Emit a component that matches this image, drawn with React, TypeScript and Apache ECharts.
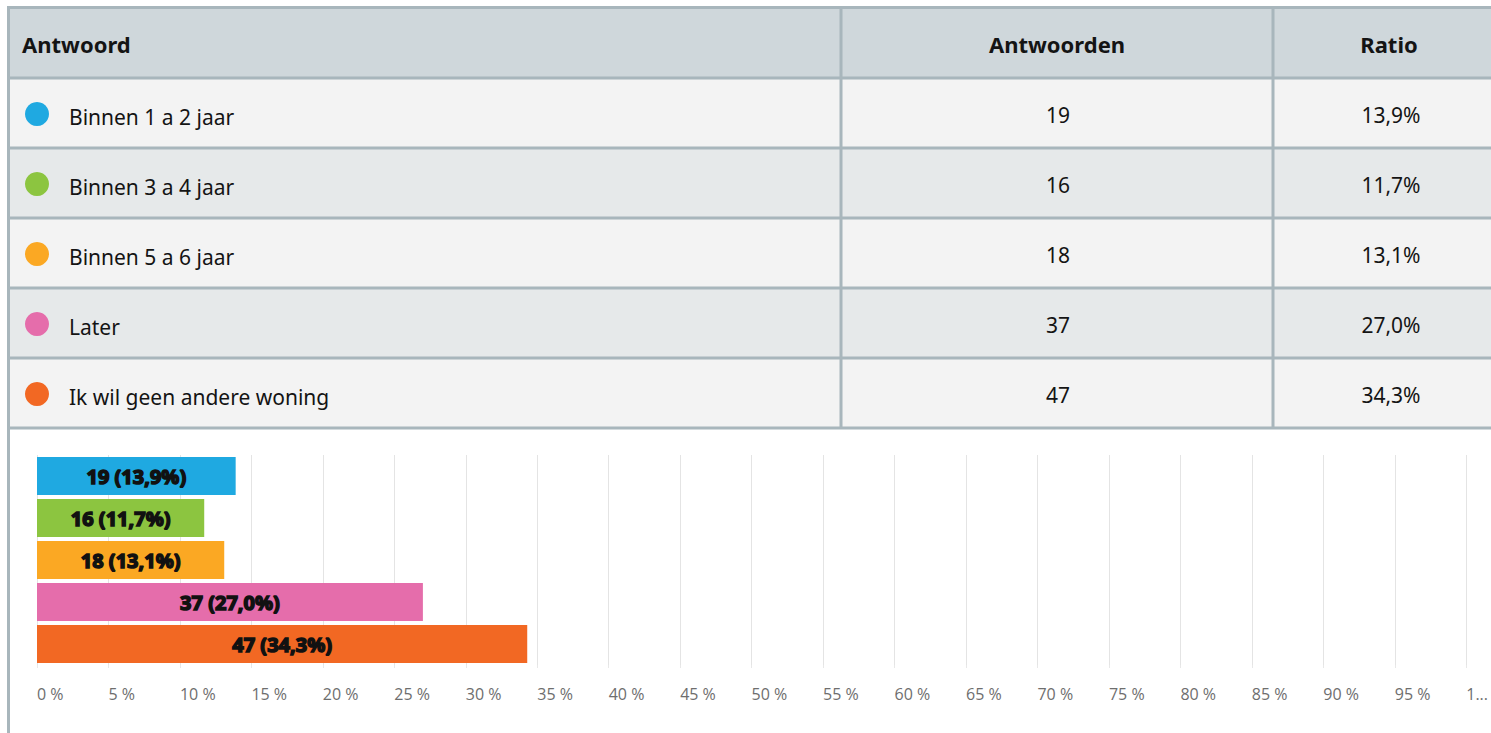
import React, { useEffect, useRef } from "react";
import * as echarts from "echarts";

const headers = ["Antwoord", "Antwoorden", "Ratio"];
const categories = [
  "Binnen 1 a 2 jaar",
  "Binnen 3 a 4 jaar",
  "Binnen 5 a 6 jaar",
  "Later",
  "Ik wil geen andere woning",
];
const counts = [19, 16, 18, 37, 47];
const ratios = [13.9, 11.7, 13.1, 27.0, 34.3];
const colors = ["#1fa9e1", "#8cc540", "#fba823", "#e56dab", "#f26823"];

const fmtPct = (v: number) => v.toFixed(1).replace(".", ",") + "%";

export default function App() {
  const ref = useRef<HTMLDivElement>(null);
  useEffect(() => {
    if (!ref.current) return;
    const chart = echarts.init(ref.current, undefined, { renderer: "svg" });

    const W = 1491;
    const tableTop = 8;
    const headerH = 70;
    const rowH = 70;
    const colX = [8, 841, 1273, 1503];
    const border = "#a8b6bc";
    const textFont = "'Noto Sans', 'Open Sans', sans-serif";

    const g: any[] = [];
    g.push({
      type: "rect",
      shape: { x: 8, y: tableTop, width: W, height: headerH },
      style: { fill: "#cfd7db" },
      silent: true,
    });
    categories.forEach((_, i) => {
      g.push({
        type: "rect",
        shape: { x: 8, y: tableTop + headerH + i * rowH, width: W, height: rowH },
        style: { fill: i % 2 === 0 ? "#f3f3f3" : "#e6e9ea" },
        silent: true,
      });
    });
    const hLines = [7.5];
    for (let i = 0; i <= categories.length; i++) hLines.push(tableTop + headerH + i * rowH);
    hLines.forEach((y) =>
      g.push({
        type: "line",
        shape: { x1: 7, y1: y, x2: W, y2: y },
        style: { stroke: border, lineWidth: 3 },
        silent: true,
      })
    );
    const tableBottom = tableTop + headerH + categories.length * rowH;
    g.push({
      type: "line",
      shape: { x1: 8.5, y1: 6, x2: 8.5, y2: 733 },
      style: { stroke: border, lineWidth: 3 },
      silent: true,
    });
    [colX[1], colX[2]].forEach((x) =>
      g.push({
        type: "line",
        shape: { x1: x, y1: 7, x2: x, y2: tableBottom },
        style: { stroke: border, lineWidth: 3 },
        silent: true,
      })
    );
    const headerY = tableTop + headerH / 2 + 1;
    const headerPos = [
      { x: 22, align: "left" },
      { x: 1057, align: "center" },
      { x: 1389, align: "center" },
    ];
    headers.forEach((h, i) =>
      g.push({
        type: "text",
        x: headerPos[i].x,
        y: headerY,
        style: {
          text: h,
          font: `bold 22px ${textFont}`,
          fill: "#141414",
          textAlign: headerPos[i].align,
          textVerticalAlign: "middle",
        },
        silent: true,
      })
    );
    categories.forEach((c, i) => {
      const cy = tableTop + headerH + i * rowH + rowH / 2;
      g.push({
        type: "circle",
        shape: { cx: 37, cy: cy + 1, r: 12 },
        style: { fill: colors[i] },
        silent: true,
      });
      g.push({
        type: "text",
        x: 69,
        y: cy + 4,
        style: {
          text: c,
          font: `21px ${textFont}`,
          fill: "#141414",
          textAlign: "left",
          textVerticalAlign: "middle",
        },
        silent: true,
      });
      g.push({
        type: "text",
        x: 1058,
        y: cy + 2,
        style: {
          text: String(counts[i]),
          font: `21px ${textFont}`,
          fill: "#141414",
          textAlign: "center",
          textVerticalAlign: "middle",
        },
        silent: true,
      });
      g.push({
        type: "text",
        x: 1391,
        y: cy + 2,
        style: {
          text: fmtPct(ratios[i]),
          font: `21px ${textFont}`,
          fill: "#141414",
          textAlign: "center",
          textVerticalAlign: "middle",
        },
        silent: true,
      });
    });

    chart.setOption({
      animation: false,
      backgroundColor: "#ffffff",
      graphic: { elements: g },
      grid: { left: 37, right: 22, top: 455, bottom: 68, containLabel: false },
      xAxis: {
        type: "value",
        min: 0,
        max: 100,
        interval: 5,
        axisLine: { show: false },
        axisTick: { show: true, length: 3, lineStyle: { color: "#e8e8e8" } },
        splitLine: { show: true, lineStyle: { color: "#e4e4e4", width: 1 } },
        axisLabel: {
          color: "#6e6e6e",
          fontSize: 16,
          fontFamily: "'Open Sans', 'Noto Sans', sans-serif",
          align: "left",
          margin: 21,
          formatter: (v: number) => (v === 100 ? "1..." : `${v} %`),
        },
      },
      yAxis: {
        type: "category",
        data: categories,
        inverse: true,
        axisLine: { show: false },
        axisTick: { show: false },
        axisLabel: { show: false },
        splitLine: { show: false },
      },
      series: [
        {
          type: "bar",
          barCategoryGap: "10%",
          data: ratios.map((v, i) => ({
            value: v,
            itemStyle: { color: colors[i] },
          })),
          label: {
            show: true,
            position: "inside",
            formatter: (p: any) => `${counts[p.dataIndex]} (${fmtPct(ratios[p.dataIndex])})`,
            color: "#111",
            fontSize: 20,
            fontWeight: "bold",
            fontFamily: "'Noto Sans', sans-serif",
            textBorderColor: "#111",
            textBorderWidth: 1.5,
          },
        },
      ],
    });
    return () => chart.dispose();
  }, []);
  return (
    <div
      ref={ref}
      style={{ position: "absolute", left: 0, top: 0, width: 1491, height: 733 }}
    />
  );
}
